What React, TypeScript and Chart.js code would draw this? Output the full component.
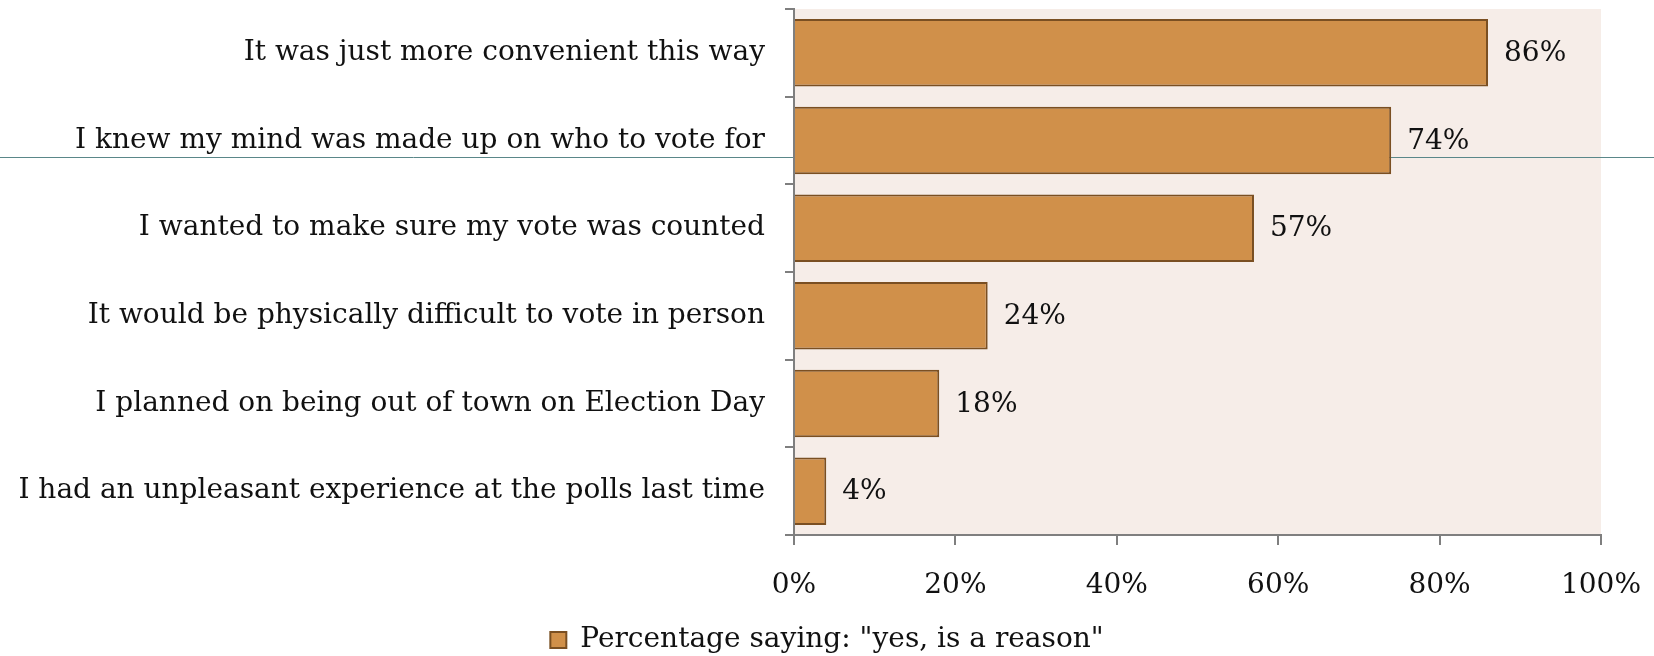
import React, { useEffect, useRef } from "react";
import { Chart, registerables } from "chart.js";

Chart.register(...registerables);

const categories = [
  "It was just more convenient this way",
  "I knew my mind was made up on who to vote for",
  "I wanted to make sure my vote was counted",
  "It would be physically difficult to vote in person",
  "I planned on being out of town on Election Day",
  "I had an unpleasant experience at the polls last time",
];
const values = [86, 74, 57, 24, 18, 4];
const seriesLabel = 'Percentage saying: "yes, is a reason"';
const xTicks = [0, 20, 40, 60, 80, 100];

const FONT = "'DejaVu Serif', serif";
const FONT_SIZE = 28;

export default function App() {
  const ref = useRef<HTMLCanvasElement | null>(null);

  useEffect(() => {
    const canvas = ref.current;
    if (!canvas) return;

    const bgPlugin = {
      id: "bgPlugin",
      beforeDraw(chart: any) {
        const { ctx, chartArea } = chart;
        ctx.save();
        ctx.fillStyle = "#F6EDE8";
        ctx.fillRect(chartArea.left, chartArea.top, chartArea.right - chartArea.left, chartArea.bottom - chartArea.top);
        // decorative slide rule line behind the bars
        const y = Math.round(chart.height * 0.24) + 0.5;
        ctx.strokeStyle = "#5a8789";
        ctx.lineWidth = 1;
        ctx.beginPath();
        ctx.moveTo(0, y);
        ctx.lineTo(chart.width, y);
        ctx.stroke();
        ctx.restore();
      },
    };

    const labelPlugin = {
      id: "valueLabels",
      afterDatasetsDraw(chart: any) {
        const { ctx } = chart;
        const meta = chart.getDatasetMeta(0);
        ctx.save();
        ctx.font = `${FONT_SIZE}px ${FONT}`;
        ctx.fillStyle = "#111111";
        ctx.textAlign = "left";
        ctx.textBaseline = "middle";
        meta.data.forEach((bar: any, i: number) => {
          ctx.fillText(values[i] + "%", bar.x + 16, bar.y + 1);
        });
        ctx.restore();
      },
    };

    const chart = new Chart(canvas, {
      type: "bar",
      data: {
        labels: categories,
        datasets: [
          {
            label: seriesLabel,
            data: values,
            backgroundColor: "#D0904A",
            borderColor: "#7A4F22",
            borderWidth: 2,
            barPercentage: 0.77,
            categoryPercentage: 1,
          },
        ],
      },
      options: {
        indexAxis: "y",
        animation: false,
        responsive: false,
        maintainAspectRatio: false,
        layout: { padding: { left: 0, right: 0, top: 9, bottom: -8 } },
        plugins: {
          tooltip: { enabled: false },
          legend: {
            display: true,
            position: "bottom",
            labels: {
              font: { family: FONT, size: FONT_SIZE },
              color: "#111111",
              boxWidth: 16,
              boxHeight: 16,
              padding: 0,
            },
          },
        },
        scales: {
          x: {
            min: 0,
            max: 100,
            afterBuildTicks(scale: any) {
              scale.ticks = xTicks.map((v) => ({ value: v }));
            },
            afterFit(scale: any) {
              scale.height = 91;
              scale.paddingRight = 53;
            },
            ticks: {
              font: { family: FONT, size: FONT_SIZE },
              color: "#111111",
              padding: 24,
              maxRotation: 0,
              callback: (v: any) => v + "%",
            },
            grid: {
              display: true,
              drawOnChartArea: false,
              drawTicks: true,
              tickLength: 10,
              color: "#7f7f7f",
              lineWidth: 2,
            },
            border: { display: true, color: "#7f7f7f", width: 2 },
          },
          y: {
            afterFit(scale: any) {
              scale.width = 794;
              scale.paddingTop = 0;
              scale.paddingBottom = 0;
            },
            ticks: {
              font: { family: FONT, size: FONT_SIZE },
              color: "#111111",
              padding: 20,
            },
            grid: {
              display: true,
              offset: true,
              drawOnChartArea: false,
              drawTicks: true,
              tickLength: 9,
              color: "#7f7f7f",
              lineWidth: 2,
            },
            border: { display: true, color: "#7f7f7f", width: 2 },
          },
        },
      },
      plugins: [bgPlugin, labelPlugin],
    });

    return () => chart.destroy();
  }, []);

  return (
    <div style={{ position: "fixed", left: 0, top: 0, width: 1654, height: 656, background: "#ffffff" }}>
      <canvas ref={ref} width={1654} height={656} style={{ width: 1654, height: 656, display: "block" }} />
    </div>
  );
}
